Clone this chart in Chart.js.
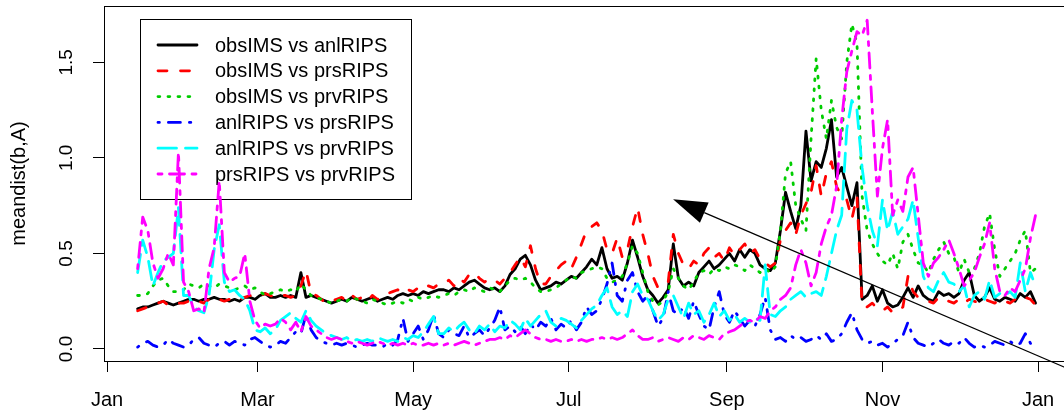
<!DOCTYPE html>
<html>
<head>
<meta charset="utf-8">
<script src="https://cdn.jsdelivr.net/npm/chart.js@4.4.1/dist/chart.umd.min.js"></script>
<style>
  html, body { margin: 0; padding: 0; background: #ffffff; overflow: hidden; }
  canvas { display: block; }
</style>
</head>
<body>
<canvas id="chart" width="1075" height="415"></canvas>
<script>
// Sample dates as day of year (0 = 1 January), every second day
const days = [
  12, 14, 16, 18, 20, 22, 24, 26, 28, 30,
  32, 34, 36, 38, 40, 42, 44, 46, 48, 50,
  52, 54, 56, 58, 60, 62, 64, 66, 68, 70,
  72, 74, 76, 78, 80, 82, 84, 86, 88, 90,
  92, 94, 96, 98, 100, 102, 104, 106, 108, 110,
  112, 114, 116, 118, 120, 122, 124, 126, 128, 130,
  132, 134, 136, 138, 140, 142, 144, 146, 148, 150,
  152, 154, 156, 158, 160, 162, 164, 166, 168, 170,
  172, 174, 176, 178, 180, 182, 184, 186, 188, 190,
  192, 194, 196, 198, 200, 202, 204, 206, 208, 210,
  212, 214, 216, 218, 220, 222, 224, 226, 228, 230,
  232, 234, 236, 238, 240, 242, 244, 246, 248, 250,
  252, 254, 256, 258, 260, 262, 264, 266, 268, 270,
  272, 274, 276, 278, 280, 282, 284, 286, 288, 290,
  292, 294, 296, 298, 300, 302, 304, 306, 308, 310,
  312, 314, 316, 318, 320, 322, 324, 326, 328, 330,
  332, 334, 336, 338, 340, 342, 344, 346, 348, 350,
  352, 354, 356, 358, 360, 362, 364
];

const obsIMS_anlRIPS = [
  0.21, 0.22, 0.22, 0.23, 0.24, 0.25, 0.24, 0.23, 0.24, 0.25,
  0.26, 0.26, 0.25, 0.26, 0.26, 0.27, 0.26, 0.26, 0.25, 0.26,
  0.25, 0.27, 0.27, 0.26, 0.28, 0.29, 0.27, 0.27, 0.28, 0.27,
  0.28, 0.27, 0.40, 0.27, 0.28, 0.27, 0.26, 0.25, 0.24, 0.25,
  0.26, 0.25, 0.27, 0.26, 0.25, 0.26, 0.27, 0.25, 0.26, 0.27,
  0.26, 0.28, 0.29, 0.28, 0.29, 0.28, 0.30, 0.29, 0.30, 0.31,
  0.31, 0.30, 0.32, 0.31, 0.33, 0.35, 0.36, 0.34, 0.32, 0.31,
  0.32, 0.30, 0.33, 0.39, 0.42, 0.47, 0.49, 0.44, 0.36, 0.31,
  0.32, 0.33, 0.35, 0.34, 0.36, 0.38, 0.37, 0.40, 0.43, 0.47,
  0.44, 0.53, 0.42, 0.37, 0.38, 0.36, 0.45, 0.57, 0.48, 0.38,
  0.31, 0.28, 0.24, 0.27, 0.31, 0.55, 0.37, 0.33, 0.35, 0.33,
  0.40, 0.43, 0.46, 0.42, 0.44, 0.47, 0.50, 0.46, 0.52, 0.48,
  0.52, 0.50, 0.44, 0.42, 0.41, 0.45, 0.62, 0.82, 0.72, 0.63,
  0.75, 1.14, 0.88, 0.98, 0.95, 1.05, 1.20, 0.90, 0.95, 0.85,
  0.75, 0.87, 0.26, 0.28, 0.33, 0.25, 0.31, 0.24, 0.22, 0.23,
  0.27, 0.32, 0.27, 0.33, 0.28, 0.26, 0.25, 0.30, 0.28, 0.29,
  0.27, 0.29, 0.36, 0.40, 0.28, 0.25, 0.27, 0.32, 0.26, 0.25,
  0.27, 0.26, 0.25, 0.29, 0.27, 0.30, 0.24
];

const obsIMS_prsRIPS = [
  0.20, 0.21, 0.22, 0.23, 0.24, 0.25, 0.23, 0.23, 0.24, 0.24,
  0.25, 0.26, 0.25, 0.24, 0.26, 0.27, 0.26, 0.25, 0.26, 0.27,
  0.26, 0.27, 0.28, 0.27, 0.28, 0.29, 0.28, 0.27, 0.28, 0.28,
  0.27, 0.28, 0.33, 0.41, 0.29, 0.28, 0.26, 0.24, 0.25, 0.26,
  0.27, 0.25, 0.28, 0.26, 0.27, 0.25, 0.28, 0.26, 0.27, 0.29,
  0.30, 0.31, 0.29, 0.31, 0.30, 0.32, 0.31, 0.33, 0.32, 0.34,
  0.34, 0.36, 0.33, 0.37, 0.35, 0.39, 0.40, 0.37, 0.35, 0.37,
  0.36, 0.34, 0.37, 0.40, 0.44, 0.48, 0.43, 0.54, 0.42, 0.34,
  0.34, 0.38, 0.41, 0.44, 0.46, 0.42, 0.48, 0.55, 0.62, 0.64,
  0.66, 0.62, 0.52, 0.50, 0.58, 0.48, 0.52, 0.64, 0.74, 0.60,
  0.50, 0.38, 0.32, 0.33, 0.35, 0.60, 0.50, 0.44, 0.42, 0.46,
  0.44, 0.50, 0.53, 0.48, 0.50, 0.46, 0.53, 0.49, 0.52, 0.55,
  0.50, 0.52, 0.47, 0.45, 0.43, 0.45, 0.57, 0.62, 0.66, 0.60,
  0.70, 0.76, 0.82, 0.96, 0.80, 0.92, 0.98, 0.85, 0.80, 0.78,
  0.68, 0.80, 0.23, 0.22, 0.24, 0.21, 0.20, 0.22, 0.19, 0.20,
  0.22, 0.38, 0.30, 0.27, 0.26, 0.25, 0.24, 0.27, 0.26, 0.25,
  0.24, 0.26, 0.24, 0.26, 0.25, 0.24, 0.26, 0.25, 0.24, 0.26,
  0.25, 0.24, 0.26, 0.25, 0.27, 0.26, 0.23
];

const obsIMS_prvRIPS = [
  0.28, 0.28, 0.29, 0.33, 0.36, 0.37, 0.33, 0.30, 0.30, 0.31,
  0.34, 0.33, 0.32, 0.34, 0.33, 0.32, 0.34, 0.33, 0.32, 0.31,
  0.32, 0.33, 0.31, 0.32, 0.30, 0.28, 0.29, 0.30, 0.31, 0.30,
  0.31, 0.30, 0.34, 0.31, 0.28, 0.27, 0.26, 0.25, 0.24, 0.25,
  0.26, 0.25, 0.27, 0.26, 0.25, 0.24, 0.26, 0.25, 0.24, 0.23,
  0.24, 0.25, 0.24, 0.26, 0.25, 0.27, 0.26, 0.27, 0.28, 0.27,
  0.28, 0.29, 0.28, 0.30, 0.31, 0.30, 0.32, 0.31, 0.30, 0.32,
  0.31, 0.30, 0.33, 0.36, 0.37, 0.36, 0.37, 0.35, 0.32, 0.30,
  0.30, 0.31, 0.32, 0.34, 0.36, 0.38, 0.37, 0.40, 0.41, 0.42,
  0.43, 0.42, 0.37, 0.35, 0.36, 0.38, 0.45, 0.54, 0.50, 0.40,
  0.30, 0.25, 0.23, 0.25, 0.30, 0.42, 0.37, 0.33, 0.31, 0.35,
  0.40, 0.41, 0.39, 0.42, 0.41, 0.43, 0.42, 0.44, 0.43, 0.41,
  0.44, 0.42, 0.40, 0.42, 0.40, 0.43, 0.62, 0.92, 0.98, 0.75,
  0.68, 0.62, 1.10, 1.52, 1.25, 1.10, 1.30, 1.16, 1.10, 1.50,
  1.70, 1.60, 0.80, 0.62, 0.55, 0.50, 0.46, 0.44, 0.50, 0.42,
  0.56, 0.60, 0.52, 0.45, 0.44, 0.40, 0.47, 0.52, 0.56, 0.50,
  0.48, 0.40, 0.47, 0.40, 0.42, 0.50, 0.64, 0.71, 0.52, 0.38,
  0.42, 0.46, 0.50, 0.57, 0.62, 0.40, 0.42
];

const anlRIPS_prsRIPS = [
  0.01, 0.03, 0.04, 0.02, 0.01, 0.02, 0.05, 0.03, 0.02, 0.01,
  0.02, 0.05, 0.06, 0.03, 0.02, 0.01, 0.03, 0.04, 0.02, 0.04,
  0.03, 0.02, 0.05, 0.06, 0.04, 0.02, 0.01, 0.02, 0.04, 0.03,
  0.06, 0.09, 0.08, 0.18, 0.10, 0.06, 0.04, 0.03, 0.02, 0.03,
  0.02, 0.03, 0.02, 0.01, 0.02, 0.03, 0.02, 0.02, 0.01, 0.03,
  0.02, 0.05, 0.16, 0.04, 0.08, 0.12, 0.05, 0.10, 0.18, 0.08,
  0.06, 0.10, 0.08, 0.07, 0.12, 0.06, 0.08, 0.10, 0.07, 0.11,
  0.15, 0.22, 0.10, 0.12, 0.09, 0.12, 0.08, 0.13, 0.10, 0.14,
  0.12, 0.16, 0.10, 0.13, 0.11, 0.15, 0.10, 0.14, 0.22, 0.18,
  0.20, 0.26, 0.34, 0.45, 0.28, 0.25, 0.36, 0.40, 0.30, 0.25,
  0.28, 0.20, 0.12, 0.16, 0.30, 0.20, 0.18, 0.22, 0.16, 0.25,
  0.18, 0.12, 0.10, 0.22, 0.30, 0.18, 0.14, 0.20, 0.16, 0.12,
  0.15, 0.12, 0.18, 0.27, 0.10, 0.05, 0.06, 0.04, 0.07, 0.05,
  0.06, 0.04, 0.05, 0.07, 0.05, 0.08, 0.04, 0.05, 0.08, 0.14,
  0.19, 0.10, 0.05, 0.03, 0.04, 0.02, 0.03, 0.01, 0.03, 0.05,
  0.07, 0.14, 0.06, 0.03, 0.02, 0.01, 0.03, 0.05, 0.03, 0.02,
  0.04, 0.03, 0.06, 0.03, 0.01, 0.02, 0.01, 0.02, 0.04, 0.03,
  0.02, 0.04, 0.02, 0.03, 0.08, 0.03, 0.01
];

const anlRIPS_prvRIPS = [
  0.40, 0.57, 0.48, 0.33, 0.40, 0.46, 0.48, 0.50, 0.74, 0.28,
  0.28, 0.22, 0.20, 0.19, 0.28, 0.52, 0.65, 0.35, 0.30, 0.31,
  0.28, 0.26, 0.20, 0.10, 0.09, 0.11, 0.08, 0.10, 0.15, 0.17,
  0.19, 0.16, 0.14, 0.20, 0.15, 0.12, 0.10, 0.08, 0.07, 0.06,
  0.05, 0.06, 0.04, 0.05, 0.04, 0.05, 0.04, 0.06, 0.05, 0.04,
  0.05, 0.04, 0.06, 0.05, 0.07, 0.06, 0.09, 0.13, 0.17, 0.08,
  0.08, 0.11, 0.09, 0.12, 0.14, 0.10, 0.08, 0.12, 0.10, 0.13,
  0.09, 0.12, 0.11, 0.15, 0.13, 0.10, 0.16, 0.12, 0.15, 0.18,
  0.20, 0.14, 0.12, 0.16, 0.15, 0.13, 0.11, 0.15, 0.18, 0.21,
  0.23, 0.28, 0.32, 0.22, 0.18, 0.20, 0.17, 0.30, 0.34, 0.28,
  0.26, 0.20, 0.15, 0.18, 0.26, 0.28, 0.22, 0.16, 0.24, 0.18,
  0.20, 0.14, 0.18, 0.24, 0.17, 0.20, 0.15, 0.18, 0.14, 0.16,
  0.14, 0.16, 0.15, 0.44, 0.18, 0.17, 0.20, 0.22, 0.26, 0.28,
  0.30, 0.27, 0.29, 0.30, 0.28, 0.38, 0.50, 0.62, 0.70, 1.15,
  1.30, 1.25, 0.95, 0.75, 0.62, 0.54, 0.78, 0.62, 0.72, 0.60,
  0.64, 0.68, 0.78, 0.58, 0.38, 0.32, 0.30, 0.36, 0.40, 0.35,
  0.34, 0.30, 0.33, 0.22, 0.28, 0.30, 0.26, 0.36, 0.27, 0.29,
  0.28, 0.30, 0.27, 0.45, 0.30, 0.40, 0.33
];

const prsRIPS_prvRIPS = [
  0.42, 0.69, 0.62, 0.45, 0.37, 0.42, 0.50, 0.44, 1.03, 0.35,
  0.30, 0.20, 0.21, 0.19, 0.42, 0.53, 0.88, 0.40, 0.35, 0.37,
  0.38, 0.50, 0.25, 0.15, 0.11, 0.13, 0.12, 0.13, 0.16, 0.14,
  0.10, 0.14, 0.09, 0.17, 0.12, 0.10, 0.08, 0.06, 0.05, 0.06,
  0.05, 0.04, 0.03, 0.04, 0.03, 0.02, 0.03, 0.04, 0.03, 0.02,
  0.03, 0.02, 0.03, 0.02, 0.03, 0.02, 0.02, 0.03, 0.02, 0.03,
  0.02, 0.03, 0.02, 0.03, 0.04, 0.03, 0.02, 0.03, 0.04, 0.05,
  0.05, 0.06, 0.05, 0.07, 0.06, 0.08, 0.10, 0.08, 0.06, 0.05,
  0.05, 0.04, 0.05, 0.04, 0.04, 0.05, 0.04, 0.05, 0.04, 0.05,
  0.05, 0.06, 0.05, 0.06, 0.05, 0.06, 0.08, 0.10, 0.07, 0.05,
  0.05, 0.06, 0.04, 0.05, 0.06, 0.05, 0.04, 0.06, 0.05, 0.07,
  0.06, 0.05, 0.07, 0.06, 0.05, 0.08, 0.09, 0.10, 0.12, 0.14,
  0.15, 0.14, 0.17, 0.16, 0.20, 0.22, 0.26, 0.28, 0.32, 0.44,
  0.52, 0.45, 0.33, 0.40, 0.55, 0.64, 0.70, 0.85, 1.20, 1.45,
  1.56, 1.66, 1.64, 1.72, 1.25, 0.80, 1.05, 1.20, 0.70, 0.78,
  0.72, 0.90, 0.95, 0.70, 0.45, 0.38, 0.45, 0.48, 0.52, 0.57,
  0.50, 0.42, 0.33, 0.36, 0.40, 0.48, 0.55, 0.66, 0.42, 0.30,
  0.28, 0.32, 0.30, 0.36, 0.42, 0.58, 0.70
];

const seriesLabels = [
  'obsIMS vs anlRIPS',
  'obsIMS vs prsRIPS',
  'obsIMS vs prvRIPS',
  'anlRIPS vs prsRIPS',
  'anlRIPS vs prvRIPS',
  'prsRIPS vs prvRIPS'
];
const seriesValues = [
  obsIMS_anlRIPS, obsIMS_prsRIPS, obsIMS_prvRIPS,
  anlRIPS_prsRIPS, anlRIPS_prvRIPS, prsRIPS_prvRIPS
];

// Axis ticks: first day of every second month, and the distance levels
const monthTicks = [0, 59, 120, 181, 243, 304, 365];
const monthLabels = ['Jan', 'Mar', 'May', 'Jul', 'Sep', 'Nov', 'Jan'];
const yTicks = [0, 0.5, 1, 1.5];
const yTickLabels = ['0.0', '0.5', '1.0', '1.5'];

// Line styles: solid, dashed, dotted, dot-dash, long dash, two-dash
const LW = 2.8;
const lineStyles = [
  { color: '#000000', dash: [] },
  { color: '#ff0000', dash: [9, 13.5] },
  { color: '#00cd00', dash: [1.8, 8.2] },
  { color: '#0000ff', dash: [1.4, 9, 12, 9] },
  { color: '#00ffff', dash: [18.5, 9] },
  { color: '#ff00ff', dash: [4, 7.5, 15, 7.5] }
];

const FONT = '"Liberation Sans", Arial, Helvetica, sans-serif';
const FS = 20;
const FS_Y = 19;

const datasets = seriesLabels.map((label, i) => ({
  label,
  data: seriesValues[i].map((v, k) => ({ x: days[k], y: v })),
  borderColor: lineStyles[i].color,
  backgroundColor: lineStyles[i].color,
  borderDash: lineStyles[i].dash,
  borderWidth: LW,
  borderCapStyle: 'round',
  borderJoinStyle: 'round',
  pointRadius: 0,
  tension: 0,
  fill: false,
  order: seriesLabels.length - i
}));

// Legend box, plot frame, rotated y labels and the arrow
const decorations = {
  id: 'decorations',
  beforeDatasetsDraw(chart) {
    const { ctx, chartArea } = chart;
    const bx = chartArea.left + 36, by = chartArea.top + 13, bw = 271, bh = 180;
    ctx.save();
    ctx.fillStyle = '#ffffff';
    ctx.fillRect(bx, by, bw, bh);
    ctx.strokeStyle = '#000000';
    ctx.lineWidth = 1;
    ctx.strokeRect(bx + 0.5, by + 0.5, bw, bh);
    ctx.font = FS + 'px ' + FONT;
    ctx.textBaseline = 'middle';
    ctx.textAlign = 'left';
    chart.data.datasets.forEach((ds, i) => {
      const y = by + 26 + i * 25.8;
      ctx.beginPath();
      ctx.setLineDash(ds.borderDash);
      ctx.lineWidth = LW;
      ctx.lineCap = 'round';
      ctx.strokeStyle = ds.borderColor;
      ctx.moveTo(bx + 18, y);
      ctx.lineTo(bx + 57, y);
      ctx.stroke();
      ctx.setLineDash([]);
      ctx.fillStyle = '#000000';
      ctx.fillText(ds.label, bx + 75, y + 1);
    });
    ctx.restore();
  },
  afterDraw(chart) {
    const { ctx, chartArea, scales } = chart;
    ctx.save();
    // frame round the plotting region
    ctx.strokeStyle = '#000000';
    ctx.lineWidth = 1;
    ctx.setLineDash([]);
    ctx.strokeRect(Math.round(chartArea.left) + 0.5, Math.round(chartArea.top) + 0.5,
      Math.round(chartArea.right - chartArea.left), Math.round(chartArea.bottom - chartArea.top));
    // y tick labels, written along the axis
    ctx.fillStyle = '#000000';
    ctx.font = FS_Y + 'px ' + FONT;
    ctx.textAlign = 'center';
    ctx.textBaseline = 'middle';
    yTicks.forEach((v, i) => {
      ctx.save();
      ctx.translate(67, scales.y.getPixelForValue(v));
      ctx.rotate(-Math.PI / 2);
      ctx.fillText(yTickLabels[i], 0, 0);
      ctx.restore();
    });
    // arrow pointing at the summer minimum
    const from = chart.options.plugins.decorations.arrowFrom;
    const to = chart.options.plugins.decorations.arrowTo;
    const x0 = scales.x.getPixelForValue(from.x), y0 = scales.y.getPixelForValue(from.y);
    const x1 = scales.x.getPixelForValue(to.x), y1 = scales.y.getPixelForValue(to.y);
    const ang = Math.atan2(y1 - y0, x1 - x0);
    const headLen = 34, headHalf = 11;
    const bxm = x1 - headLen * Math.cos(ang), bym = y1 - headLen * Math.sin(ang);
    ctx.strokeStyle = '#000000';
    ctx.lineWidth = 1.3;
    ctx.beginPath();
    ctx.moveTo(x0, y0);
    ctx.lineTo(bxm, bym);
    ctx.stroke();
    ctx.fillStyle = '#000000';
    ctx.beginPath();
    ctx.moveTo(x1, y1);
    ctx.lineTo(bxm + headHalf * Math.sin(ang), bym - headHalf * Math.cos(ang));
    ctx.lineTo(bxm - headHalf * Math.sin(ang), bym + headHalf * Math.cos(ang));
    ctx.closePath();
    ctx.fill();
    ctx.restore();
  }
};

Chart.defaults.font.family = FONT;
Chart.defaults.color = '#000000';

new Chart(document.getElementById('chart'), {
  type: 'line',
  data: { datasets },
  plugins: [decorations],
  options: {
    responsive: false,
    animation: false,
    devicePixelRatio: 1,
    layout: { padding: { top: 6, right: 4, bottom: 0, left: 0 } },
    plugins: {
      legend: { display: false },
      tooltip: { enabled: false },
      decorations: {
        arrowFrom: { x: 377.9, y: -0.11 },
        arrowTo: { x: 221.9, y: 0.784 }
      }
    },
    scales: {
      x: {
        type: 'linear',
        min: -1.18,
        max: 377.9,
        afterBuildTicks(scale) { scale.ticks = monthTicks.map(v => ({ value: v })); },
        afterFit(scale) { scale.height = 54; },
        ticks: {
          autoSkip: false,
          maxRotation: 0,
          padding: 16,
          color: '#000000',
          font: { size: FS, family: FONT },
          callback: (v, i) => monthLabels[i]
        },
        grid: { drawOnChartArea: false, drawTicks: true, tickLength: 11, color: '#000000', lineWidth: 1 },
        border: { display: true, color: '#000000', width: 1 }
      },
      y: {
        type: 'linear',
        min: -0.0628,
        max: 1.7946,
        afterBuildTicks(scale) { scale.ticks = yTicks.map(v => ({ value: v })); },
        afterFit(scale) { scale.width = 104; },
        ticks: { display: false },
        grid: { drawOnChartArea: false, drawTicks: true, tickLength: 11, color: '#000000', lineWidth: 1 },
        border: { display: true, color: '#000000', width: 1 },
        title: {
          display: true,
          text: 'meandist(b,A)',
          color: '#000000',
          font: { size: FS, family: FONT },
          padding: { top: 7, bottom: 0 }
        }
      }
    }
  }
});
</script>
</body>
</html>
